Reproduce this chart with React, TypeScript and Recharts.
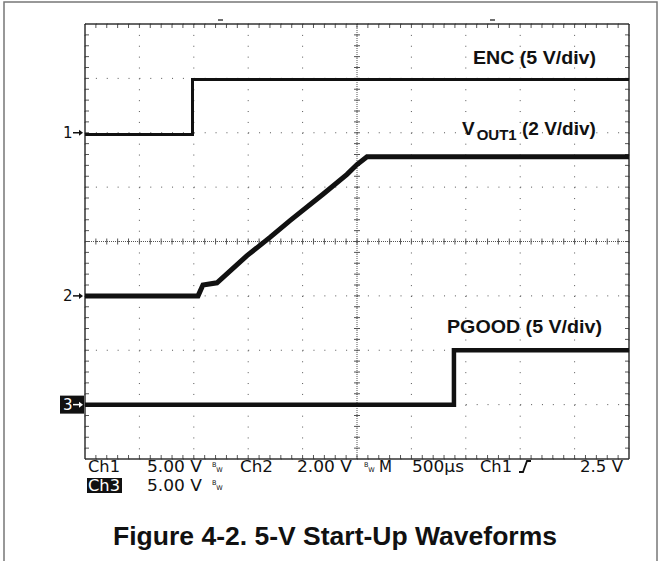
import {
  LineChart,
  Line,
  XAxis,
  YAxis,
  CartesianGrid,
  ReferenceLine,
} from "recharts";

// scope settings: 500 µs/div over 10 divisions, 8 vertical divisions
const timeSpan = [0, 5000];
const divSpan = [-4, 4];
const majorTimes = [0, 500, 1000, 1500, 2000, 2500, 3000, 3500, 4000, 4500, 5000];
const majorDivs = [-4, -3, -2, -1, 0, 1, 2, 3, 4];

// channel ground offsets (div) and scales (V/div)
const chOffsets = [2, -1, -3];
const chScales = [5, 2, 5];
const chNames = ["1", "2", "3"];

// Ch1 ENC
const encTimes = [0, 988, 988, 5000];
const encVolts = [-0.15, -0.15, 4.9, 4.9];
// Ch2 VOUT1
const voutTimes = [0, 1039, 1084, 1213, 1489, 1700, 1884, 2187, 2408, 2500, 2592, 5000];
const voutVolts = [0, 0, 0.4, 0.48, 1.48, 2.15, 2.77, 3.74, 4.47, 4.83, 5.12, 5.12];
// Ch3 PGOOD
const pgoodTimes = [0, 3391, 3391, 5000];
const pgoodVolts = [0, 0, 5.0, 5.0];

const toDiv = (times: number[], volts: number[], ch: number) =>
  times.map((t, i) => ({ t, y: chOffsets[ch] + volts[i] / chScales[ch] }));

const encData = toDiv(encTimes, encVolts, 0);
const voutData = toDiv(voutTimes, voutVolts, 1);
const pgoodData = toDiv(pgoodTimes, pgoodVolts, 2);

// minor ticks every 1/5 division
const minorTimes = Array.from({ length: 49 }, (_, i) => (i + 1) * 100);
const minorDivs = Array.from({ length: 39 }, (_, i) => -4 + (i + 1) * 0.2);

const PX_T = 5000 / 544; // µs per pixel
const PX_D = 8 / 435; // div per pixel

const INK = "#111";
const GRID = "#555";

function MarkerTick(props: any) {
  const { y, payload } = props;
  const idx = chOffsets.indexOf(payload.value);
  const name = chNames[idx];
  const boxed = idx === 2;
  const fg = boxed ? "#fff" : INK;
  return (
    <g>
      {boxed && <rect x={60} y={y - 9} width={24} height={18} fill={INK} />}
      <text
        x={63}
        y={y + 5}
        fontFamily="DejaVu Sans, sans-serif"
        fontSize={15}
        fill={fg}
      >
        {name}
      </text>
      <line x1={73} y1={y} x2={80} y2={y} stroke={fg} strokeWidth={1.5} />
      <path d={`M79 ${y - 3} L83 ${y} L79 ${y + 3} Z`} fill={fg} />
    </g>
  );
}

const mono = "DejaVu Sans, sans-serif";
const bold = "Liberation Sans, Arial, sans-serif";

// bandwidth-limit glyph: small B raised, W lowered, side by side
function BW({ x, y }: { x: number; y: number }) {
  return (
    <text x={x} y={y - 5} fontFamily={mono} fontSize={6.5} fill={INK}>
      B<tspan dy={5}>W</tspan>
    </text>
  );
}

const status = { fontFamily: mono, fontSize: 15.5, fill: INK, lengthAdjust: "spacingAndGlyphs" } as const;

export default function App() {
  return (
    <div style={{ position: "absolute", left: 0, top: 0, width: 660, height: 561, background: "#fff" }}>
      <LineChart
        width={660}
        height={561}
        margin={{ top: 24, right: 31, bottom: 102, left: 0 }}
      >
        <XAxis dataKey="t" type="number" domain={timeSpan} ticks={majorTimes} hide allowDataOverflow />
        <YAxis yAxisId="div" type="number" domain={divSpan} ticks={majorDivs} hide allowDataOverflow />
        <YAxis
          yAxisId="marker"
          type="number"
          domain={divSpan}
          ticks={chOffsets}
          interval={0}
          width={85}
          axisLine={false}
          tickLine={false}
          tick={<MarkerTick />}
          allowDataOverflow
        />
        <CartesianGrid yAxisId="div" stroke={GRID} strokeDasharray="1 9.88" />

        {/* center crosshair */}
        <ReferenceLine yAxisId="div" y={0} stroke={GRID} strokeDasharray="1 1" />
        <ReferenceLine yAxisId="div" x={2500} stroke={GRID} strokeDasharray="1 1" />
        {minorTimes.map((t) => (
          <ReferenceLine
            key={"ch" + t}
            yAxisId="div"
            segment={[{ x: t, y: -3 * PX_D }, { x: t, y: 3 * PX_D }]}
            stroke={GRID}
          />
        ))}
        {minorDivs.map((d) => (
          <ReferenceLine
            key={"cv" + d}
            yAxisId="div"
            segment={[{ x: 2500 - 3 * PX_T, y: d }, { x: 2500 + 3 * PX_T, y: d }]}
            stroke={GRID}
          />
        ))}

        {/* border ticks */}
        {minorTimes.map((t) => (
          <ReferenceLine
            key={"bt" + t}
            yAxisId="div"
            segment={[{ x: t, y: 4 }, { x: t, y: 4 - 4 * PX_D }]}
            stroke={GRID}
          />
        ))}
        {minorTimes.map((t) => (
          <ReferenceLine
            key={"bb" + t}
            yAxisId="div"
            segment={[{ x: t, y: -4 }, { x: t, y: -4 + 4 * PX_D }]}
            stroke={GRID}
          />
        ))}
        {minorDivs.map((d) => (
          <ReferenceLine
            key={"bl" + d}
            yAxisId="div"
            segment={[{ x: 0, y: d }, { x: 4 * PX_T, y: d }]}
            stroke={GRID}
          />
        ))}
        {minorDivs.map((d) => (
          <ReferenceLine
            key={"br" + d}
            yAxisId="div"
            segment={[{ x: 5000, y: d }, { x: 5000 - 4 * PX_T, y: d }]}
            stroke={GRID}
          />
        ))}

        {/* plot border */}
        <ReferenceLine yAxisId="div" y={4} stroke="#333" strokeWidth={1.5} />
        <ReferenceLine yAxisId="div" y={-4} stroke="#333" strokeWidth={1.5} />
        <ReferenceLine yAxisId="div" x={0} stroke="#333" strokeWidth={1.5} />
        <ReferenceLine yAxisId="div" x={5000} stroke="#333" strokeWidth={1.5} />

        <Line yAxisId="div" data={encData} dataKey="y" type="linear" dot={false} stroke={INK} strokeWidth={3} isAnimationActive={false} />
        <Line yAxisId="div" data={voutData} dataKey="y" type="linear" dot={false} stroke={INK} strokeWidth={5} isAnimationActive={false} />
        <Line yAxisId="div" data={pgoodData} dataKey="y" type="linear" dot={false} stroke={INK} strokeWidth={4.5} isAnimationActive={false} />
      </LineChart>

      <svg
        width={660}
        height={561}
        style={{ position: "absolute", left: 0, top: 0, pointerEvents: "none" }}
      >
        <rect x={4} y={2} width={653} height={562} fill="none" stroke="#777" strokeWidth={1.5} />

        {/* trigger markers above the graticule */}
        <line x1={218} y1={20} x2={223} y2={20} stroke={INK} strokeWidth={1.2} />
        <line x1={490} y1={20} x2={495} y2={20} stroke={INK} strokeWidth={1.2} />

        {/* trace labels */}
        <g fontFamily={bold} fontWeight="bold" fill={INK}>
          <text x={473} y={64} fontSize={19} textLength={123} lengthAdjust="spacingAndGlyphs">
            ENC (5 V/div)
          </text>
          <text x={462} y={135} fontSize={19}>
            V
            <tspan fontSize={15} dx={2} dy={5}>OUT1</tspan>
            <tspan fontSize={19} dy={-5}> (2 V/div)</tspan>
          </text>
          <text x={447} y={333} fontSize={19} textLength={155} lengthAdjust="spacingAndGlyphs">
            PGOOD (5 V/div)
          </text>
        </g>

        {/* scope status line */}
        <text x={88} y={472} textLength={32} {...status}>Ch1</text>
        <text x={147} y={472} textLength={55} {...status}>5.00 V</text>
        <text x={240} y={472} textLength={33} {...status}>Ch2</text>
        <text x={297} y={472} textLength={55} {...status}>2.00 V</text>
        <text x={379} y={472} textLength={13} {...status}>M</text>
        <text x={412} y={472} textLength={52} {...status}>500µs</text>
        <text x={480} y={472} textLength={32} {...status}>Ch1</text>
        <text x={580} y={472} textLength={43} {...status}>2.5 V</text>
        <rect x={87} y={478} width={35} height={15} fill={INK} />
        <text x={88} y={491} textLength={32} {...status} fill="#fff">Ch3</text>
        <text x={147} y={491} textLength={55} {...status}>5.00 V</text>
        <BW x={212} y={472} />
        <BW x={364} y={472} />
        <BW x={212} y={490} />
        <path d="M519 472 L523 472 L527 461 L531 461" fill="none" stroke={INK} strokeWidth={1.8} />

        <text
          x={335}
          y={545}
          textAnchor="middle"
          fontFamily={bold}
          fontWeight="bold"
          fontSize={26}
          fill={INK}
          textLength={444}
          lengthAdjust="spacingAndGlyphs"
        >
          Figure 4-2. 5-V Start-Up Waveforms
        </text>
      </svg>
    </div>
  );
}
